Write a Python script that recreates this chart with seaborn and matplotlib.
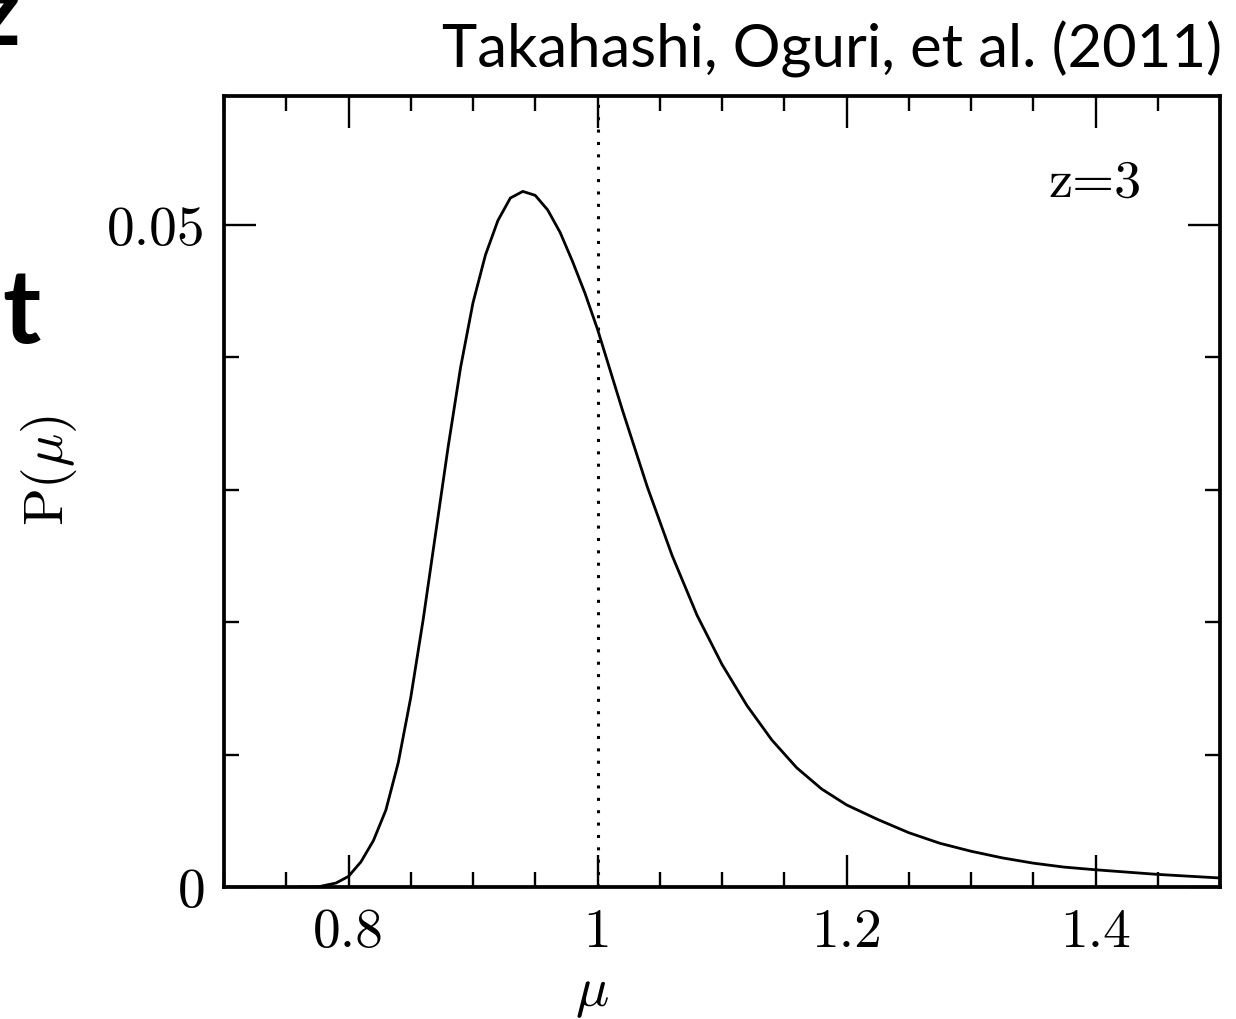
import numpy as np
import pandas as pd
import matplotlib
matplotlib.use("Agg")
import matplotlib.pyplot as plt
import seaborn as sns
from matplotlib.ticker import MultipleLocator, FixedLocator

# ---- data ----
mu = [0.76, 0.775, 0.79, 0.80, 0.81, 0.82, 0.83, 0.84, 0.85, 0.86, 0.87, 0.88,
      0.89, 0.90, 0.91, 0.92, 0.93, 0.94, 0.95, 0.96, 0.97, 0.98, 0.99, 1.00,
      1.02, 1.04, 1.06, 1.08, 1.10, 1.12, 1.14, 1.16, 1.18, 1.20, 1.225, 1.25,
      1.275, 1.30, 1.325, 1.35, 1.375, 1.40, 1.45, 1.50]
P = [0.0, 0.0, 0.0003, 0.0008, 0.0019, 0.0035, 0.0058, 0.0094, 0.0143, 0.0202,
     0.0267, 0.0332, 0.0392, 0.0441, 0.0477, 0.0503, 0.0520, 0.0525, 0.0522,
     0.0511, 0.0494, 0.0472, 0.0448, 0.0421, 0.0360, 0.0302, 0.0250, 0.0205,
     0.0168, 0.0137, 0.0111, 0.0090, 0.0074, 0.0062, 0.0051, 0.0041, 0.0033,
     0.0027, 0.0022, 0.0018, 0.0015, 0.0013, 0.00095, 0.00068]

x_major = [0.8, 1.0, 1.2, 1.4]
x_labels = ["0.8", "1", "1.2", "1.4"]
y_major = [0.0, 0.05]
y_labels = ["0", "0.05"]
title_text = "Takahashi, Oguri, et al. (2011)"
panel_text = "z=3"
ref_mu = 1.0

sns.set_theme(style="ticks")
plt.rcParams["font.family"] = ["Lato", "DejaVu Sans"]
plt.rcParams["mathtext.fontset"] = "cm"
plt.rcParams["axes.unicode_minus"] = False

W, H = 1236, 1020
fig = plt.figure(figsize=(W / 100, H / 100), dpi=100)
fig.patch.set_facecolor("white")
ax = fig.add_axes([224 / W, 1 - 888 / H, (1220 - 224) / W, (888 - 97) / H])
ax.set_facecolor("white")

df = pd.DataFrame({"mu": mu, "P": P})
sns.lineplot(data=df, x="mu", y="P", ax=ax, color="black", linewidth=2.0,
             estimator=None, sort=False)
ax.axvline(ref_mu, color="black", linewidth=2.2, linestyle=(0, (1.0, 3.05)))

ax.set_xlim(0.7, 1.5)
ax.set_ylim(0, 0.0597)

for s in ax.spines.values():
    s.set_linewidth(2.7)
    s.set_color("black")
    s.set_visible(True)

ax.xaxis.set_major_locator(FixedLocator(x_major))
ax.set_xticklabels(x_labels)
ax.xaxis.set_minor_locator(MultipleLocator(0.05))
ax.yaxis.set_major_locator(FixedLocator(y_major))
ax.set_yticklabels(y_labels)
ax.yaxis.set_minor_locator(MultipleLocator(0.01))

ax.tick_params(which="both", direction="in", top=True, right=True,
               color="black", width=1.7)
ax.tick_params(which="major", length=23)
ax.tick_params(which="minor", length=11)
ax.tick_params(axis="x", which="major", pad=15)
ax.tick_params(axis="y", which="major", pad=13)
for lab in ax.get_xticklabels() + ax.get_yticklabels():
    lab.set_family("cmr10")
    lab.set_fontsize(40)
    lab.set_color("black")

ax.set_xlabel(r"$\mu$", fontsize=40, color="black")
ax.xaxis.set_label_coords((592 - 224) / 996, (888 - 969) / 791)
ax.set_ylabel(r"$\mathrm{P}(\mu)$", fontsize=40, color="black")
ax.yaxis.set_label_coords((79 - 224) / 996, (888 - 470) / 791)

ax.text((1142 - 224) / 996, (888 - 197) / 791, panel_text, transform=ax.transAxes,
        ha="right", va="baseline", fontsize=39, family="cmr10", color="black")

fig.text(1222 / W, 1 - 68 / H, title_text, ha="right", va="baseline",
         fontsize=43, family=["Lato", "DejaVu Sans"], color="black")

# cut-off slide text at the left edge (partly outside the frame, as in the reference)
fig.text(20 / W, 1 - 45 / H, "z", ha="right", va="baseline", fontsize=72,
         weight="bold", family=["Lato", "DejaVu Sans"], color="black")
fig.text(41 / W, 1 - 343 / H, "t", ha="right", va="baseline", fontsize=74,
         weight="bold", family=["Lato", "DejaVu Sans"], color="black")

fig.savefig("out.png", dpi=100, facecolor="white")
